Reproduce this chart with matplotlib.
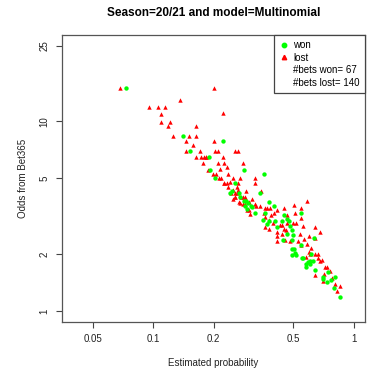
import matplotlib
matplotlib.use("Agg")
import matplotlib.pyplot as plt
from matplotlib.ticker import NullLocator
from matplotlib.lines import Line2D

plt.rcParams['font.family'] = ['Liberation Sans', 'DejaVu Sans']

# won bets: estimated probability vs Bet365 odds
won_prob = [0.0734, 0.140, 0.152, 0.223, 0.190, 0.192, 0.204, 0.283, 0.357, 0.255,
            0.268, 0.240, 0.248, 0.284, 0.291, 0.286, 0.293, 0.307, 0.320, 0.340,
            0.378, 0.400, 0.360, 0.367, 0.378, 0.403, 0.416, 0.440, 0.448, 0.467,
            0.477, 0.480, 0.490, 0.500, 0.445, 0.494, 0.494, 0.505, 0.510, 0.517,
            0.547, 0.544, 0.553, 0.560, 0.576, 0.592, 0.603, 0.627, 0.637, 0.630,
            0.610, 0.703, 0.703, 0.737, 0.767, 0.745, 0.804, 0.795, 0.852, 0.603,
            0.270, 0.297, 0.490, 0.463, 0.353, 0.580, 0.310]
won_odds = [14.9, 8.4, 7.0, 7.9, 6.5, 5.5, 5.0, 5.5, 5.3, 4.75,
            4.2, 4.2, 4.3, 3.8, 3.78, 3.56, 3.45, 3.56, 3.28, 4.2,
            3.77, 3.57, 3.27, 2.86, 2.98, 2.98, 2.77, 2.98, 3.2, 3.06,
            2.97, 2.8, 2.68, 2.53, 2.38, 2.38, 2.13, 2.13, 2.02, 1.98,
            3.3, 2.24, 1.91, 1.91, 1.78, 1.81, 1.83, 1.83, 1.65, 2.43,
            2.0, 1.51, 1.48, 1.43, 1.45, 1.6, 1.51, 1.33, 1.18, 1.77,
            4.0, 3.72, 1.98, 2.55, 3.0, 1.71, 3.53]

# lost bets
lost_prob = [0.068, 0.200, 0.1355, 0.0953, 0.1056, 0.114, 0.223, 0.109, 0.109, 0.121,
             0.119, 0.163, 0.126, 0.150, 0.164, 0.146, 0.200, 0.146, 0.170, 0.204,
             0.210, 0.255, 0.265, 0.164, 0.173, 0.178, 0.184, 0.222, 0.176, 0.210,
             0.224, 0.279, 0.232, 0.1875, 0.198, 0.212, 0.236, 0.224, 0.232, 0.250,
             0.272, 0.320, 0.320, 0.236, 0.262, 0.289, 0.344, 0.243, 0.255, 0.262,
             0.275, 0.287, 0.255, 0.268, 0.291, 0.300, 0.287, 0.325, 0.340, 0.294,
             0.300, 0.362, 0.381, 0.360, 0.376, 0.360, 0.376, 0.400, 0.448, 0.463,
             0.467, 0.448, 0.437, 0.412, 0.416, 0.453, 0.505, 0.510, 0.498, 0.517,
             0.547, 0.547, 0.560, 0.584, 0.527, 0.547, 0.597, 0.644, 0.680, 0.584,
             0.637, 0.576, 0.600, 0.603, 0.637, 0.660, 0.697, 0.644, 0.710, 0.737,
             0.703, 0.826, 0.852, 0.218, 0.225, 0.265, 0.250, 0.257, 0.280, 0.272,
             0.279, 0.370, 0.355, 0.412, 0.385, 0.396, 0.428, 0.458, 0.437, 0.480,
             0.538, 0.565, 0.610, 0.660, 0.680, 0.720, 0.760, 0.780, 0.810, 0.265,
             0.240, 0.215, 0.206, 0.158, 0.310, 0.320, 0.302, 0.250, 0.416, 0.183]
lost_odds = [14.9, 14.9, 13.0, 11.9, 11.9, 11.9, 11.0, 10.9, 9.9, 9.9,
             9.4, 9.4, 8.4, 8.4, 8.4, 7.9, 7.9, 7.0, 7.0, 7.0,
             7.0, 7.0, 7.0, 6.5, 6.5, 6.5, 6.5, 6.5, 6.0, 6.0,
             6.0, 6.0, 5.77, 5.5, 5.3, 5.0, 5.3, 4.75, 4.75, 5.0,
             5.0, 5.0, 4.75, 4.5, 4.5, 4.3, 4.3, 4.2, 4.2, 4.2,
             4.0, 4.0, 4.0, 3.75, 3.84, 3.75, 3.65, 3.57, 3.57, 3.4,
             3.4, 3.5, 3.5, 3.13, 3.0, 2.77, 2.7, 3.3, 3.5, 3.2,
             2.9, 2.7, 2.83, 2.6, 2.5, 2.38, 3.6, 3.3, 2.9, 2.9,
             3.5, 3.1, 2.8, 3.8, 2.33, 2.22, 2.5, 2.76, 2.6, 2.26,
             2.43, 1.93, 2.05, 2.0, 2.0, 1.91, 1.85, 1.54, 1.57, 1.70,
             1.44, 1.28, 1.36, 5.02, 4.75, 4.75, 4.35, 4.0, 4.0, 3.7,
             3.67, 3.5, 3.28, 3.4, 3.2, 2.9, 2.83, 2.66, 2.55, 2.35,
             2.55, 2.4, 2.15, 1.99, 1.83, 1.7, 1.62, 1.5, 1.39, 4.35,
             4.78, 5.6, 5.3, 7.5, 3.87, 3.65, 3.25, 3.9, 2.35, 6.5]

x_ticks = [0.05, 0.1, 0.2, 0.5, 1]
x_labels = ["0.05", "0.1", "0.2", "0.5", "1"]
y_ticks = [1, 2, 5, 10, 25]
y_labels = ["1", "2", "5", "10", "25"]

W, H = 368, 372
fig = plt.figure(figsize=(W / 100, H / 100), dpi=100)
ax = fig.add_axes([62.3 / W, 1 - 321.7 / H, (365 - 62.3) / W, (321.7 - 35) / H])

ax.scatter(lost_prob, lost_odds, marker='^', s=10, color='#ff0000', linewidths=0, zorder=3)
ax.scatter(won_prob, won_odds, marker='o', s=10, color='#00ff00', linewidths=0, zorder=3)

ax.set_xscale('log')
ax.set_yscale('log')
# R style 4% expansion around xlim=c(0.04,1), ylim=c(1,25)
ax.set_xlim(10 ** (-1.398 - 0.056), 10 ** 0.056)
ax.set_ylim(10 ** -0.056, 10 ** (1.398 + 0.056))
ax.set_xticks(x_ticks)
ax.set_xticklabels(x_labels)
ax.set_yticks(y_ticks)
ax.set_yticklabels(y_labels, rotation=90, va='center')
ax.xaxis.set_minor_locator(NullLocator())
ax.yaxis.set_minor_locator(NullLocator())
ax.tick_params(length=4.5, width=0.8, color='#444444', labelsize=7, pad=4.5, labelcolor='#222222')
for s in ax.spines.values():
    s.set_color('#555555')
    s.set_linewidth(0.9)

fig.text(213.5 / W, 1 - 12.5 / H, "Season=20/21 and model=Multinomial",
         ha='center', va='center', fontsize=8.5, fontweight='bold')
fig.text(213.5 / W, 1 - 362.5 / H, "Estimated probability",
         ha='center', va='center', fontsize=7, color='#222222')
fig.text(22.7 / W, 1 - 178 / H, "Odds from Bet365",
         ha='center', va='center', rotation=90, fontsize=7, color='#222222')

handles = [Line2D([], [], marker='o', color='#00ff00', linestyle='none', markersize=3.2),
           Line2D([], [], marker='^', color='#ff0000', linestyle='none', markersize=3.2),
           Line2D([], [], linestyle='none'),
           Line2D([], [], linestyle='none')]
labels = ["won", "lost", "#bets won= 67", "#bets lost= 140"]
leg = ax.legend(handles, labels, loc='upper right', fontsize=7,
                frameon=True, fancybox=False, framealpha=1, edgecolor='#444444',
                labelspacing=0.25, handlelength=0.9, handletextpad=0.5,
                borderpad=0.55, borderaxespad=0)
leg.get_frame().set_linewidth(0.9)

fig.savefig("out.png", dpi=100)
